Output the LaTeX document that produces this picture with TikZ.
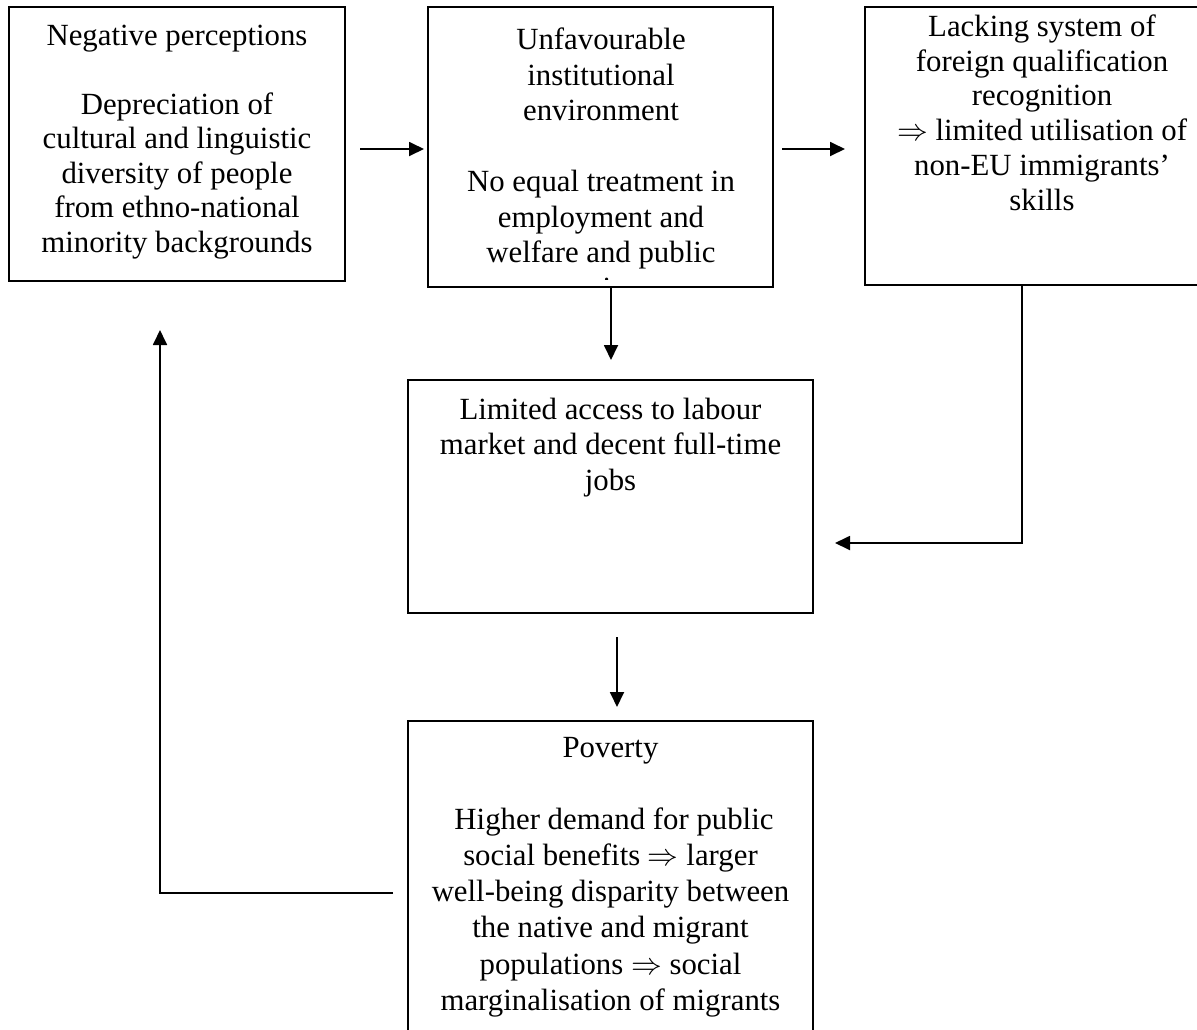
\RequirePackage{fix-cm}
\documentclass[tikz,border=0pt]{standalone}
\usepackage{fontspec}
\setmainfont{Liberation Serif}
\usetikzlibrary{arrows.meta}
\newcommand\tstrut{\rule{0pt}{24pt}}
\newcommand\impl{$\Rightarrow$}
\begin{document}
\begin{tikzpicture}[x=1pt,y=-1pt,
  box/.style={draw, line width=1.8pt, rectangle, inner sep=0pt},
  txt/.style={align=center, inner sep=0pt, anchor=north},
  arr/.style={line width=1.8pt, -{Triangle[length=15pt,width=14pt]}},
  ln/.style={line width=1.8pt}]
\useasboundingbox (0,0) rectangle (1197,1029);

% boxes
\node[box, minimum width=336pt, minimum height=274pt] (b1) at (177,144) {};
\node[box, minimum width=345pt, minimum height=280pt] (b2) at (600.5,147) {};
\node[box, minimum width=360pt, minimum height=278pt] (b3) at (1045,146) {};
\node[box, minimum width=405pt, minimum height=233pt] (b4) at (610.5,496.5) {};
\node[box, minimum width=405pt, minimum height=339pt] (b5) at (610.5,890.5) {};

% texts
\node[txt, font=\fontsize{30.8}{34.5}\selectfont] (t1) at (177,21)
  {\tstrut Negative perceptions\\[34.5pt]
   Depreciation of\\ cultural and linguistic\\ diversity of people\\
   from ethno-national\\ minority backgrounds};
\begin{scope}
\clip (428,7) rectangle (773,279);
\node[txt, font=\fontsize{30.8}{35.5}\selectfont] (t2) at (601,25.5)
  {\tstrut Unfavourable\\ institutional\\ environment\\[35.5pt]
   No equal treatment in\\ employment and\\ welfare and public\\ services};
\end{scope}
\node[txt, font=\fontsize{30.8}{34.8}\selectfont] (t3) at (1042,12)
  {\tstrut Lacking system of\\ foreign qualification\\ recognition\\
   \impl{} limited utilisation of\\ non-EU immigrants’\\ skills};
\node[txt, font=\fontsize{30.8}{35.5}\selectfont] (t4) at (610.5,395)
  {\tstrut Limited access to labour\\ market and decent full-time\\ jobs};
\node[txt, font=\fontsize{30.8}{36.3}\selectfont] (t5) at (610.5,733)
  {\tstrut Poverty\\[35.5pt]
   \hspace*{7pt}Higher demand for public\\ social benefits \impl{} larger\\
   well-being disparity between\\ the native and migrant\\
   populations \impl{} social\\ marginalisation of migrants};

% connector end points
\coordinate (a12s) at (360,149);
\coordinate (a12e) at (424,149);
\coordinate (a23s) at (782,149);
\coordinate (a23e) at (845,149);
\coordinate (a24s) at (611,287);
\coordinate (a24e) at (611,360);
\coordinate (a45s) at (617,637);
\coordinate (a45e) at (617,707);
\coordinate (a34s) at (1022,285);
\coordinate (a34c) at (1022,543);
\coordinate (a34e) at (835,543);
\coordinate (a51s) at (393,893);
\coordinate (a51c) at (160,893);
\coordinate (a51e) at (160,330);

% connectors
\draw[arr] (a12s) -- (a12e);
\draw[arr] (a23s) -- (a23e);
\draw[arr] (a24s) -- (a24e);
\draw[arr] (a45s) -- (a45e);
\draw[arr] (a34s) -- (a34c) -- (a34e);
\draw[arr] (a51s) -- (a51c) -- (a51e);
\end{tikzpicture}
\end{document}
